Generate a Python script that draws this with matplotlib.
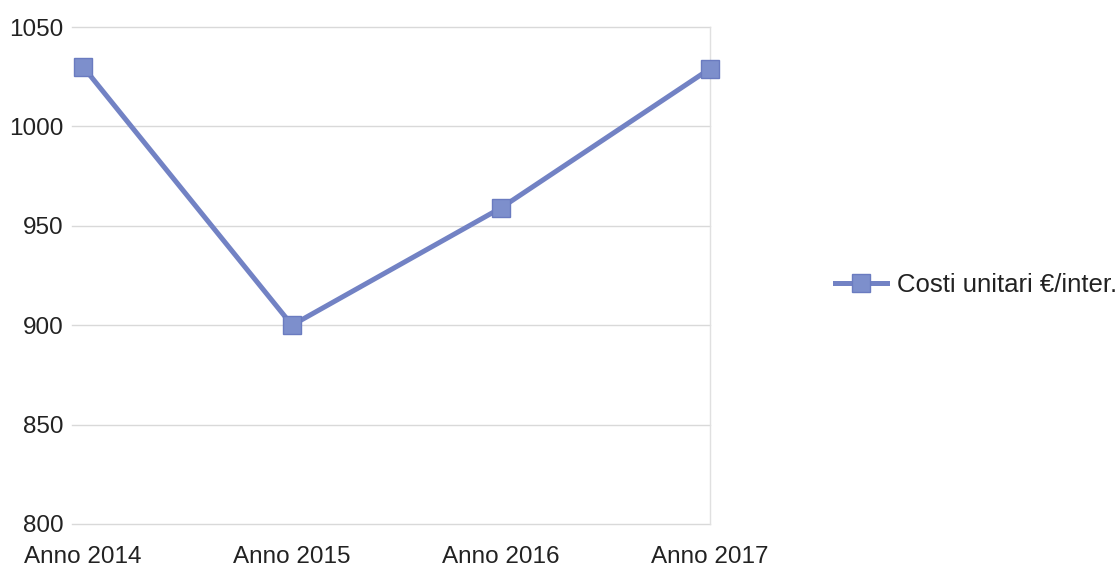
import numpy as np
import matplotlib.pyplot as plt

plt.rcParams['font.family'] = ['Liberation Sans', 'DejaVu Sans']

anni = ['Anno 2014', 'Anno 2015', 'Anno 2016', 'Anno 2017']
costi = [1030, 900, 959, 1029]
yticks = [800, 850, 900, 950, 1000, 1050]

fig = plt.figure(figsize=(11.18, 5.70), dpi=100)
ax = fig.add_axes([72/1118, 1-524/570, (710-72)/1118, (524-27)/570])

x = np.arange(len(anni))
ax.plot(x, costi, color='#7282c4', linewidth=3.6, marker='s', markersize=13,
        markerfacecolor='#7d8fcc', markeredgecolor='#6a7bc0', markeredgewidth=1,
        label='Costi unitari €/inter.', clip_on=False, zorder=3)

ax.set_ylim(800, 1050)
ax.set_xlim(-0.053, 3)
ax.set_yticks(yticks)
ax.set_xticks(x)
ax.set_xticklabels(anni)
ax.tick_params(axis='both', length=0, labelsize=17.5, colors='#222222')
ax.tick_params(axis='y', pad=6)
ax.tick_params(axis='x', pad=16)
ax.grid(True, axis='y', color='#d9d9d9', linewidth=1)
for g in ax.yaxis.get_gridlines():
    g.set_clip_on(False)
for s in ['top', 'left', 'bottom']:
    ax.spines[s].set_visible(False)
ax.spines['right'].set_color('#e0e0e0')
ax.spines['right'].set_linewidth(1)

fig.legend(loc='center left', bbox_to_anchor=(812/1118, 1-285/570), frameon=False,
           fontsize=18.5, handlelength=2.0, handletextpad=0.4, labelcolor='#222222')

plt.savefig('out.png', dpi=100)
